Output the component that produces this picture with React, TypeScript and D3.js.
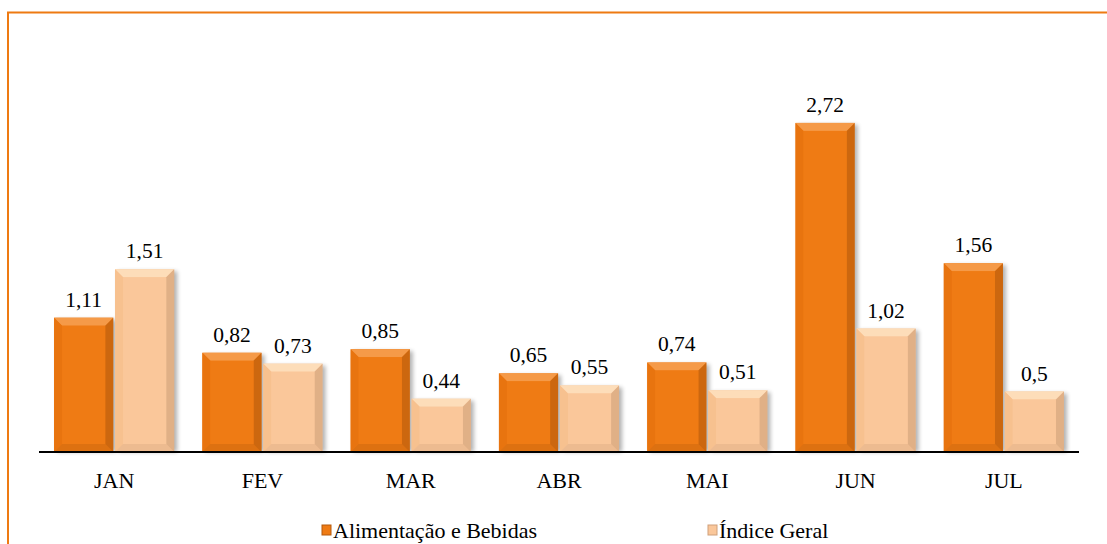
import React from 'react'
import * as d3 from 'd3'

const months = ['JAN', 'FEV', 'MAR', 'ABR', 'MAI', 'JUN', 'JUL']
const alimentacao = [1.11, 0.82, 0.85, 0.65, 0.74, 2.72, 1.56]
const indiceGeral = [1.51, 0.73, 0.44, 0.55, 0.51, 1.02, 0.5]
const seriesNames = ['Alimentação e Bebidas', 'Índice Geral']

const W = 1107
const H = 544
const baseY = 452
const serif = 'Liberation Serif, Times New Roman, DejaVu Serif, serif'

// colours per series: main, light bevel, dark bevel
const palette = [
  { main: '#EF7B14', light: '#F59A48', dark: '#B45A0C', mid: '#E8740F' },
  { main: '#FAC79A', light: '#FDDDB9', dark: '#CFA07A', mid: '#F7C18F' }
]

const fmt = (v: number) => String(v).replace('.', ',')

function Bar({ x, y, w, h, s }: { x: number; y: number; w: number; h: number; s: number }) {
  const c = palette[s]
  const b = Math.min(8, h / 2)
  const x2 = x + w
  const y2 = y + h
  return (
    <g>
      <rect x={x + 3} y={y + 2} width={w} height={h - 2} fill="#000" opacity={0.3} filter="url(#blur)" />
      <rect x={x} y={y} width={w} height={h} fill={c.main} />
      {/* top bevel */}
      <polygon points={`${x},${y} ${x2},${y} ${x2 - b},${y + b} ${x + b},${y + b}`} fill={c.light} />
      {/* left bevel */}
      <polygon points={`${x},${y} ${x + b},${y + b} ${x + b},${y2 - b} ${x},${y2}`} fill={c.mid} />
      {/* right bevel */}
      <polygon points={`${x2},${y} ${x2},${y2} ${x2 - b},${y2 - b} ${x2 - b},${y + b}`} fill={c.dark} opacity={0.6} />
      {/* bottom bevel */}
      <polygon points={`${x},${y2} ${x + b},${y2 - b} ${x2 - b},${y2 - b} ${x2},${y2}`} fill={c.dark} opacity={0.3} />
      <rect x={x + b} y={y + b} width={Math.max(0, w - 2 * b)} height={Math.max(0, h - 2 * b)} fill={c.main} />
    </g>
  )
}

export default function App() {
  const x0 = d3.scaleBand<string>().domain(months).range([40, 1078]).paddingInner(0.19).paddingOuter(0.095)
  const x1 = d3.scaleBand<number>().domain([0, 1]).range([0, x0.bandwidth()]).paddingInner(0.03)
  const y = d3.scaleLinear().domain([0, 3]).range([baseY, baseY - 3 * 121])

  const series = [alimentacao, indiceGeral]
  const txt = { fontFamily: serif }

  return (
    <svg width={W} height={H} style={{ position: 'absolute', left: 0, top: 0, background: '#fff', fontFamily: serif }}>
      <defs>
        <filter id="blur" x="-20%" y="-20%" width="140%" height="140%">
          <feGaussianBlur stdDeviation="2" />
        </filter>
      </defs>
      <rect x={8} y={12.5} width={W + 10} height={H + 10} fill="none" stroke="#EE7A12" strokeWidth={2} />

      {series.map((vals, s) =>
        vals.map((v, i) => {
          const bx = (x0(months[i]) ?? 0) + (x1(s) ?? 0)
          const by = y(v)
          return (
            <g key={`${s}-${i}`}>
              <Bar x={bx} y={by} w={x1.bandwidth()} h={baseY - by} s={s} />
              <text x={bx + x1.bandwidth() / 2} y={by - 11} textAnchor="middle" fontSize={21.5} fill="#000" style={txt}>
                {fmt(v)}
              </text>
            </g>
          )
        })
      )}

      <line x1={39} x2={1079} y1={baseY} y2={baseY} stroke="#000" strokeWidth={2} />

      {months.map(m => (
        <text key={m} x={(x0(m) ?? 0) + x0.bandwidth() / 2} y={488} textAnchor="middle" fontSize={22} fill="#000" style={txt}>
          {m}
        </text>
      ))}

      {seriesNames.map((n, s) => {
        const lx = s === 0 ? 322 : 708
        return (
          <g key={n}>
            <rect x={lx} y={525} width={9} height={10} fill={palette[s].main} stroke={palette[s].dark} strokeWidth={1} />
            <text x={lx + 11} y={538} fontSize={22} fill="#000" style={txt}>{n}</text>
          </g>
        )
      })}
    </svg>
  )
}
